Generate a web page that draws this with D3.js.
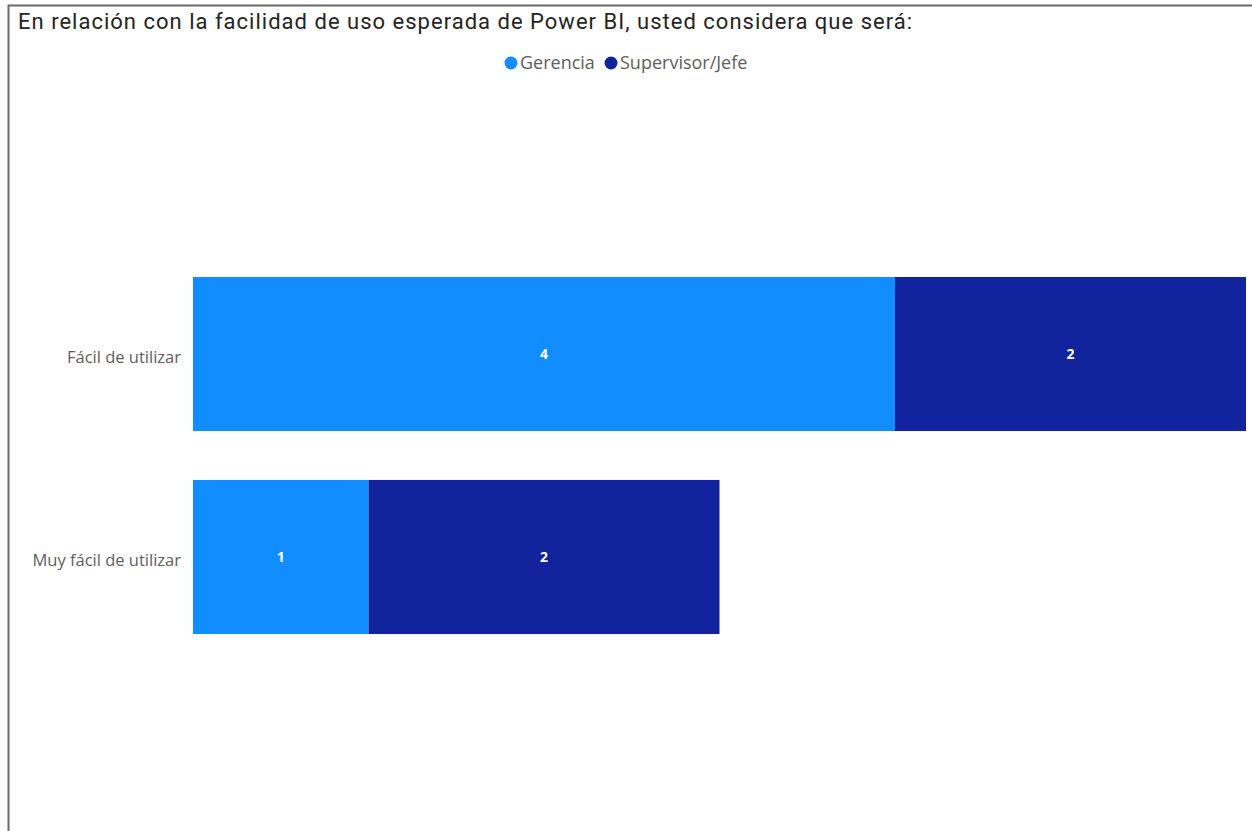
<!DOCTYPE html>
<html>
<head>
<meta charset="utf-8">
<script src="https://cdn.jsdelivr.net/npm/d3@7"></script>
<style>
  body { margin: 0; background: #fff; }
  svg { display: block; }
</style>
</head>
<body>
<div id="chart"></div>
<script>
// data
var categories = ["Fácil de utilizar", "Muy fácil de utilizar"];
var seriesNames = ["Gerencia", "Supervisor/Jefe"];
var gerencia = [4, 1];
var supervisor = [2, 2];
var colors = ["#118DFF", "#12239E"];

var width = 1252, height = 831;
var svg = d3.select("#chart").append("svg")
    .attr("width", width)
    .attr("height", height);

// frame lines (top and left)
svg.append("line").attr("x1", 8).attr("x2", width).attr("y1", 5.5).attr("y2", 5.5)
    .style("stroke", "#6b6b6b").style("stroke-width", 2);
svg.append("line").attr("x1", 8.5).attr("x2", 8.5).attr("y1", 5).attr("y2", height)
    .style("stroke", "#6b6b6b").style("stroke-width", 2);

// title
svg.append("text")
    .attr("x", 18).attr("y", 29)
    .attr("textLength", 894)
    .attr("lengthAdjust", "spacing")
    .text("En relación con la facilidad de uso esperada de Power BI, usted considera que será:")
    .style("font-family", "Roboto, sans-serif")
    .style("font-size", "22px")
    .style("fill", "#252423");

// stacked data
var rows = categories.map(function(c, i) {
    return {cat: c, Gerencia: gerencia[i], "Supervisor/Jefe": supervisor[i]};
});
var stacked = d3.stack().keys(seriesNames)(rows);

var x = d3.scaleLinear()
    .domain([0, d3.max(rows, function(d) { return d.Gerencia + d["Supervisor/Jefe"]; })])
    .range([193, 1246]);

var y = d3.scaleBand()
    .domain(categories)
    .range([175.5, 735.5])
    .paddingInner(0.241)
    .paddingOuter(0.5);

var color = d3.scaleOrdinal().domain(seriesNames).range(colors);

var layers = svg.selectAll("g.layer").data(stacked).enter()
    .append("g").attr("class", "layer")
    .style("fill", function(d) { return color(d.key); });

layers.selectAll("rect").data(function(d) { return d; }).enter()
    .append("rect")
    .attr("x", function(d) { return x(d[0]); })
    .attr("y", function(d) { return y(d.data.cat); })
    .attr("width", function(d) { return x(d[1]) - x(d[0]); })
    .attr("height", y.bandwidth());

// value labels
layers.selectAll("text").data(function(d) { return d; }).enter()
    .append("text")
    .attr("x", function(d) { return (x(d[0]) + x(d[1])) / 2; })
    .attr("y", function(d) { return y(d.data.cat) + y.bandwidth() / 2; })
    .attr("dy", "0.35em")
    .attr("text-anchor", "middle")
    .text(function(d) { return d[1] - d[0]; })
    .style("font-family", "'Open Sans', sans-serif")
    .style("font-size", "14px")
    .style("font-weight", "bold")
    .style("fill", "#ffffff");

// y axis
var yAxis = svg.append("g")
    .attr("transform", "translate(181,4)")
    .call(d3.axisLeft(y).tickSize(0).tickPadding(0));
yAxis.select(".domain").remove();
yAxis.selectAll("text")
    .style("font-family", "'Open Sans', sans-serif")
    .style("font-size", "16.5px")
    .style("fill", "#605E5C");

// legend
var legend = svg.append("g").attr("class", "legend");
var legendX = [511, 611];
seriesNames.forEach(function(name, i) {
    legend.append("circle")
        .attr("cx", legendX[i]).attr("cy", 63).attr("r", 6.5)
        .style("fill", colors[i]);
    legend.append("text")
        .attr("x", legendX[i] + 9).attr("y", 63)
        .attr("dy", "0.35em")
        .text(name)
        .style("font-family", "'Open Sans', sans-serif")
        .style("font-size", "18px")
        .style("fill", "#605E5C");
});
</script>
</body>
</html>
